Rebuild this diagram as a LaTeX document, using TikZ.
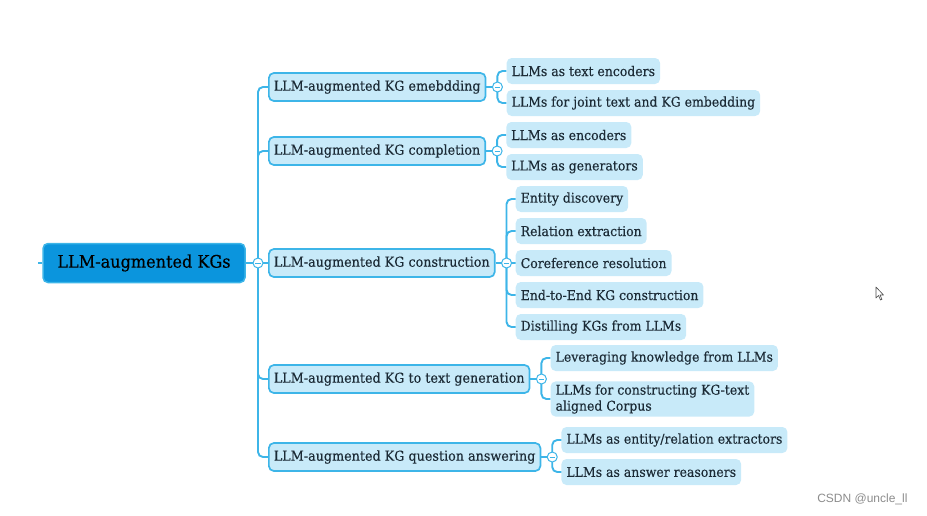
\documentclass[tikz,border=0pt]{standalone}
\usepackage{fontspec}
\setmainfont{DejaVu Serif}[FakeStretch=0.93, FakeBold=0.3]
\newfontfamily\wmfont{Liberation Sans}
\definecolor{lineblue}{HTML}{3DB5E8}
\definecolor{rootfill}{HTML}{0B95DD}
\definecolor{lvlfill}{HTML}{C8EAF9}
\definecolor{txt}{HTML}{1C2B36}
\tikzset{
  conn/.style={draw=lineblue, line width=1.9pt, rounded corners=5pt},
  rootbox/.style={fill=rootfill, draw=lineblue, line width=1.5pt, rounded corners=5pt,
    minimum height=39pt, minimum width=202pt, font=\fontsize{17.3}{20}\selectfont, text=black},
  topic/.style={fill=lvlfill, draw=lineblue, line width=1.7pt, rounded corners=5pt,
    minimum height=28pt, inner xsep=5pt, font=\fontsize{13.7}{16}\selectfont, text=txt, anchor=west},
  subtopic/.style={fill=lvlfill, rounded corners=5pt, minimum height=26pt, inner xsep=5pt,
    inner ysep=3pt, font=\fontsize{13.4}{16}\selectfont, text=txt, anchor=west, align=left},
  fold/.style={circle, draw=lineblue, fill=white, line width=1pt, minimum size=10pt, inner sep=0pt,
    path picture={\draw[lineblue, line width=0.8pt]
      ([xshift=-2.6pt]path picture bounding box.center) -- ([xshift=2.6pt]path picture bounding box.center);}},
}
\begin{document}
\begin{tikzpicture}[x=1pt, y=-1pt]
\useasboundingbox (0,0) rectangle (927,515);
% root and level-1 topics
\node[rootbox] (root) at (144,263) {LLM-augmented KGs};
\coordinate (stub) at (38,263);
\coordinate (f0) at (258,263);
\node[topic] (t1) at (268,87) {LLM-augmented KG emebdding};
\node[topic] (t2) at (268,151) {LLM-augmented KG completion};
\node[topic] (t3) at (268,263) {LLM-augmented KG construction};
\node[topic] (t4) at (268,379) {LLM-augmented KG to text generation};
\node[topic] (t5) at (268,457) {LLM-augmented KG question answering};
\path (t1.east) ++(11,0) coordinate (f1);
\path (t2.east) ++(11,0) coordinate (f2);
\path (t3.east) ++(11,0) coordinate (f3);
\path (t4.east) ++(11,0) coordinate (f4);
\path (t5.east) ++(11,0) coordinate (f5);
% level-2 topics
\path (f1) ++(9,-16) node[subtopic] (s11) {LLMs as text encoders};
\path (f1) ++(9,16) node[subtopic] (s12) {LLMs for joint text and KG embedding};
\path (f2) ++(9,-16) node[subtopic] (s21) {LLMs as encoders};
\path (f2) ++(9,16) node[subtopic] (s22) {LLMs as generators};
\path (f3) ++(9,-64) node[subtopic] (s31) {Entity discovery};
\path (f3) ++(9,-32) node[subtopic] (s32) {Relation extraction};
\path (f3) ++(9,0) node[subtopic] (s33) {Coreference resolution};
\path (f3) ++(9,32) node[subtopic] (s34) {End-to-End KG construction};
\path (f3) ++(9,64) node[subtopic] (s35) {Distilling KGs from LLMs};
\path (f4) ++(9,-21) node[subtopic] (s41) {Leveraging knowledge from LLMs};
\path (f4) ++(9,20) node[subtopic] (s42) {LLMs for constructing KG-text\\aligned Corpus};
\path (f5) ++(9,-17) node[subtopic] (s51) {LLMs as entity/relation extractors};
\path (f5) ++(9,15) node[subtopic] (s52) {LLMs as answer reasoners};
% connectors
\draw[conn] (root.west) -- (stub);
\draw[conn] (root.east) -- (f0);
\foreach \t in {t1,t2,t3,t4,t5} {\draw[conn] (f0) |- (\t.west);}
\draw[conn] (t1.east) -- (f1);
\draw[conn] (t2.east) -- (f2);
\draw[conn] (t3.east) -- (f3);
\draw[conn] (t4.east) -- (f4);
\draw[conn] (t5.east) -- (f5);
\foreach \s in {s11,s12} {\draw[conn] (f1) |- (\s.west);}
\foreach \s in {s21,s22} {\draw[conn] (f2) |- (\s.west);}
\foreach \s in {s31,s32,s33,s34,s35} {\draw[conn] (f3) |- (\s.west);}
\foreach \s in {s41,s42} {\draw[conn] (f4) |- (\s.west);}
\foreach \s in {s51,s52} {\draw[conn] (f5) |- (\s.west);}
% fold markers
\foreach \f in {f0,f1,f2,f3,f4,f5} {\node[fold] at (\f) {};}
% watermark
\node[font=\wmfont\fontsize{12}{14}\selectfont, text=black!45, anchor=east] (wm) at (911,499) {CSDN @uncle\_ll};
% mouse pointer
\draw[black!70, line width=0.6pt, fill=white, line join=round]
  (876,287) -- (876,298) -- (878.5,295.5) -- (880.5,300) -- (882,299.3) -- (880,295) -- (883.5,295) -- cycle;
\end{tikzpicture}
\end{document}
